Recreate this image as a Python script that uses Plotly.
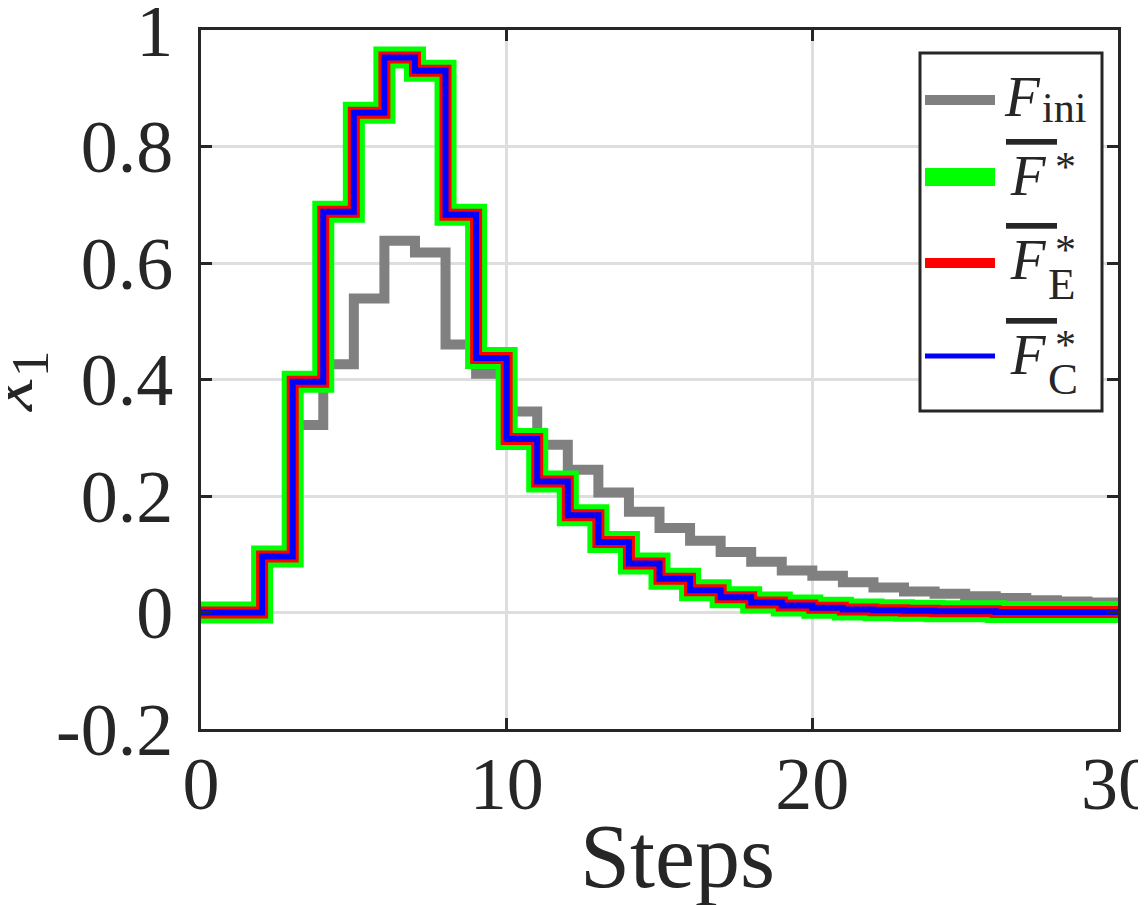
import plotly.graph_objects as go

# step index and the trajectories of x1
steps = list(range(31))
f_ini = [0, 0, 0.095, 0.322, 0.426, 0.539, 0.638, 0.618, 0.46, 0.41,
         0.345, 0.288, 0.245, 0.206, 0.173, 0.145, 0.123, 0.104, 0.087, 0.072,
         0.063, 0.052, 0.043, 0.036, 0.032, 0.028, 0.025, 0.021, 0.019, 0.017, 0.015]
f_opt = [0, 0, 0.096, 0.396, 0.688, 0.858, 0.953, 0.930, 0.683, 0.437,
         0.298, 0.225, 0.167, 0.121, 0.084, 0.058, 0.038, 0.026, 0.017, 0.012,
         0.008, 0.005, 0.004, 0.003, 0.002, 0.002, 0.001, 0.001, 0.001, 0.001, 0.001]
f_opt_e = [0, 0, 0.096, 0.396, 0.688, 0.858, 0.953, 0.930, 0.683, 0.437,
           0.298, 0.225, 0.167, 0.121, 0.084, 0.058, 0.038, 0.026, 0.017, 0.012,
           0.008, 0.005, 0.004, 0.003, 0.002, 0.002, 0.001, 0.001, 0.001, 0.001, 0.001]
f_opt_c = [0, 0, 0.096, 0.396, 0.688, 0.858, 0.953, 0.930, 0.683, 0.437,
           0.298, 0.225, 0.167, 0.121, 0.084, 0.058, 0.038, 0.026, 0.017, 0.012,
           0.008, 0.005, 0.004, 0.003, 0.002, 0.002, 0.001, 0.001, 0.001, 0.001, 0.001]

y_ticks = [-0.2, 0, 0.2, 0.4, 0.6, 0.8, 1]
y_ticktext = ['-0.2', '0', '0.2', '0.4', '0.6', '0.8', '1']
x_ticks = [0, 10, 20, 30]

# the page puts the figure 8px in from the top left corner
OFF = 8
W, H = 1146 - OFF, 905 - OFF
L, R, T, B = 201 - OFF, 28, 30 - OFF, 176
FONT = 'Liberation Serif'
INK = '#262626'


def px(x):
    # page pixel -> paper x
    return (x - OFF - L) / (W - L - R)


def py(y):
    # page pixel -> paper y
    return (OFF + H - B - y) / (H - T - B)


fig = go.Figure()
series = [
    (f_ini, '#808080', 10),
    (f_opt, '#00ff00', 22),
    (f_opt_e, '#ff0000', 12),
    (f_opt_c, '#0000ff', 6),
]
for vals, col, w in series:
    fig.add_trace(go.Scatter(x=steps, y=vals, mode='lines', line_shape='hv',
                             line=dict(color=col, width=w), showlegend=False,
                             hoverinfo='skip'))

axis_style = dict(showline=True, linecolor=INK, linewidth=3, mirror='ticks',
                  ticks='inside', ticklen=11, tickwidth=3, tickcolor=INK,
                  showgrid=True, gridcolor='#dedede', gridwidth=3,
                  zeroline=False, automargin=False, ticklabeloverflow='allow',
                  tickfont=dict(family=FONT, size=74, color=INK))
fig.update_xaxes(range=[0, 30], tickvals=x_ticks, ticktext=['0', '10', '20', '30'],
                 ticklabelstandoff=-12, **axis_style)
fig.update_yaxes(range=[-0.2, 1], tickvals=y_ticks, ticktext=y_ticktext,
                 ticklabelstandoff=10, **axis_style)

# legend drawn by hand (MATLAB style box inside the axes)
shapes = [dict(type='rect', xref='paper', yref='paper', layer='above',
               x0=px(920), x1=px(1102), y0=py(411), y1=py(53),
               line=dict(color=INK, width=3), fillcolor='white')]
leg_rows = [(100, '#808080', 10), (177, '#00ff00', 18),
            (263, '#ff0000', 10), (356, '#0000ff', 5)]
for yy, col, w in leg_rows:
    shapes.append(dict(type='line', xref='paper', yref='paper', layer='above',
                       x0=px(925), x1=px(995), y0=py(yy), y1=py(yy),
                       line=dict(color=col, width=w)))

ann = []


def txt(x, y, s, size, xanchor='left', angle=0):
    ann.append(dict(x=px(x), y=py(y), xref='paper', yref='paper', text=s,
                    showarrow=False, xanchor=xanchor, yanchor='middle',
                    textangle=angle, font=dict(family=FONT, size=size, color=INK)))


over = '<span style="text-decoration:overline">&#8202;F&#8201;</span>'
# F_ini
txt(1002, 96, '<i>F</i>', 57)
txt(1040, 108, 'ini', 42)
# F bar star variants
for base, sub in [(195, ''), (278, 'E'), (373, 'C')]:
    txt(1004, base - 19, '<i>' + over + '</i>', 57)
    txt(1053, base - 28, '*', 42)
    if sub:
        txt(1046, base + 6, sub, 45)

txt(677, 856, 'Steps', 90, xanchor='center')
txt(12, 382, '<i>x</i><sub>1</sub>', 76, xanchor='center', angle=-90)

fig.update_layout(template='none', width=W, height=H,
                  margin=dict(l=L, r=R, t=T, b=B),
                  font=dict(family=FONT, color=INK),
                  plot_bgcolor='white', paper_bgcolor='white',
                  shapes=shapes, annotations=ann, showlegend=False)

fig.write_html("out.html")
